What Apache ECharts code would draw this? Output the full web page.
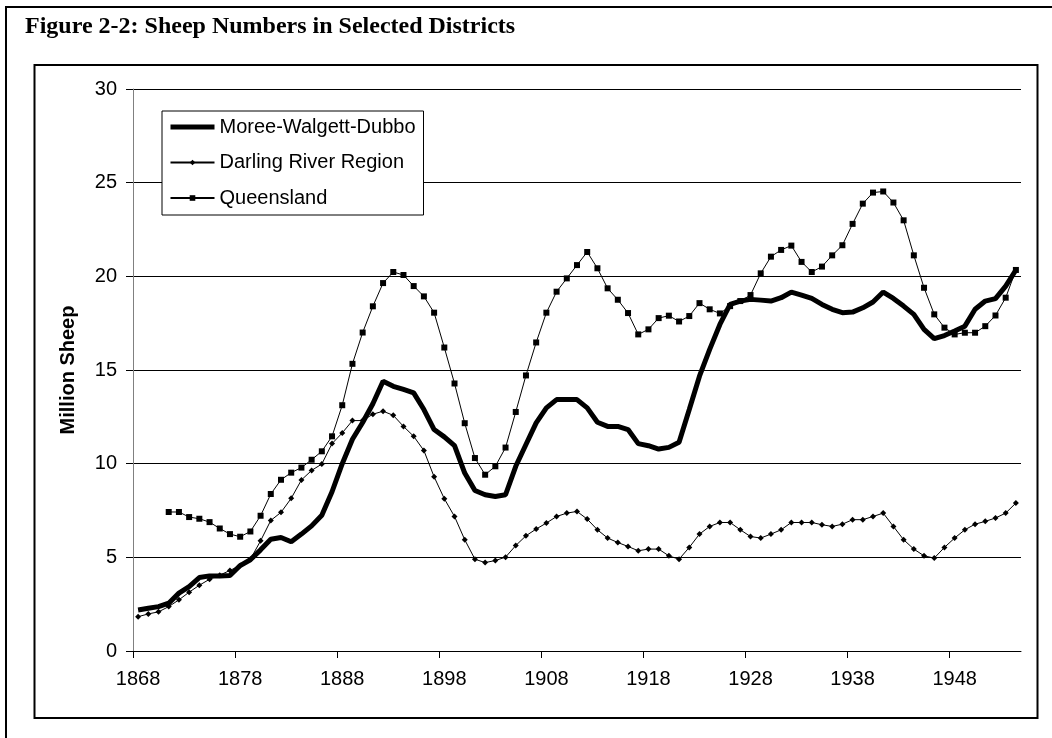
<!DOCTYPE html>
<html>
<head>
<meta charset="utf-8">
<title>Sheep Numbers in Selected Districts</title>
<script src="https://cdn.jsdelivr.net/npm/echarts@6/dist/echarts.min.js"></script>
<style>
  html, body { margin: 0; padding: 0; background: #fff; }
  #chart { width: 1052px; height: 738px; }
</style>
</head>
<body>
<div id="chart"></div>
<script>
// years on the category axis, one per point
const years = [];
for (let y = 1868; y <= 1954; y++) years.push(String(y));

// million sheep
const moree = [
  2.19, 2.28, 2.37, 2.55, 3.09, 3.44, 3.92, 4.01, 4.01, 4.03,
  4.56, 4.87, 5.40, 5.97, 6.06, 5.83, 6.24, 6.68, 7.25, 8.50,
  10.0, 11.3, 12.2, 13.2, 14.4, 14.13, 13.96, 13.78, 12.89, 11.82,
  11.43, 10.96, 9.50, 8.57, 8.34, 8.25, 8.34, 9.86, 11.02, 12.18,
  12.98, 13.42, 13.42, 13.42, 12.98, 12.21, 11.99, 11.99, 11.82, 11.07,
  10.96, 10.78, 10.87, 11.14, 12.89, 14.67, 16.10, 17.43, 18.50, 18.68,
  18.77, 18.73, 18.68, 18.86, 19.16, 19.00, 18.82, 18.50, 18.24, 18.06,
  18.09, 18.32, 18.63, 19.16, 18.82, 18.41, 17.97, 17.17, 16.67, 16.84,
  17.08, 17.34, 18.24, 18.68, 18.81, 19.48, 20.34
];

const darling = [
  1.83, 1.98, 2.09, 2.37, 2.73, 3.14, 3.51, 3.83, 4.05, 4.30,
  4.56, 4.90, 5.88, 6.97, 7.40, 8.15, 9.13, 9.64, 9.98, 11.07,
  11.64, 12.30, 12.30, 12.64, 12.80, 12.58, 11.99, 11.46, 10.70, 9.30,
  8.13, 7.18, 5.94, 4.90, 4.72, 4.83, 5.01, 5.63, 6.15, 6.51,
  6.83, 7.18, 7.36, 7.45, 7.04, 6.47, 6.03, 5.79, 5.58, 5.35,
  5.44, 5.44, 5.08, 4.90, 5.53, 6.24, 6.65, 6.86, 6.86, 6.47,
  6.11, 6.03, 6.24, 6.47, 6.86, 6.86, 6.86, 6.74, 6.65, 6.77,
  7.01, 7.01, 7.18, 7.36, 6.65, 5.94, 5.44, 5.08, 4.96, 5.53,
  6.03, 6.47, 6.77, 6.92, 7.10, 7.36, 7.90
];

// Queensland series begins in 1871
const queenslandStart = 1871;
const queensland = [
  7.42, 7.42, 7.15, 7.06, 6.88, 6.54, 6.24, 6.10, 6.38,
  7.22, 8.38, 9.14, 9.52, 9.79, 10.21, 10.66, 11.46, 13.12, 15.33,
  17.00, 18.40, 19.64, 20.23, 20.07, 19.48, 18.93, 18.06, 16.20, 14.28,
  12.16, 10.30, 9.41, 9.86, 10.86, 12.76, 14.71, 16.47, 18.06, 19.18,
  19.89, 20.60, 21.30, 20.43, 19.36, 18.75, 18.04, 16.90, 17.17, 17.77,
  17.90, 17.59, 17.88, 18.57, 18.24, 18.02, 18.41, 18.68, 19.00, 20.16,
  21.05, 21.41, 21.64, 20.77, 20.23, 20.52, 21.12, 21.66, 22.80, 23.88,
  24.47, 24.53, 23.94, 22.99, 21.12, 19.39, 17.97, 17.26, 16.90, 16.99,
  16.99, 17.34, 17.91, 18.86, 20.34
];

const xTickValues = [0, 10, 20, 30, 40, 50, 60, 70, 80];

const queenslandData = years.map(y => {
  const k = +y - queenslandStart;
  return k >= 0 ? queensland[k] : null;
});

const sans = 'Liberation Sans, Arial, sans-serif';
const chart = echarts.init(document.getElementById('chart'));

chart.setOption({
  animation: false,
  backgroundColor: '#fff',
  title: {
    text: 'Figure 2-2: Sheep Numbers in Selected Districts',
    left: 25,
    top: 15,
    padding: 0,
    textStyle: {
      fontFamily: 'Liberation Serif, Times New Roman, serif',
      fontWeight: 'bold',
      fontSize: 24,
      color: '#000'
    }
  },
  graphic: [
    {
      type: 'rect', silent: true, z: -1,
      shape: { x: 6, y: 7, width: 1200, height: 1000 },
      style: { fill: 'none', stroke: '#000', lineWidth: 2 }
    },
    {
      type: 'rect', silent: true, z: -1,
      shape: { x: 34.5, y: 65, width: 1003, height: 653 },
      style: { fill: 'none', stroke: '#000', lineWidth: 2 }
    }
  ],
  legend: {
    orient: 'vertical',
    left: 162,
    top: 111,
    padding: [5, 8, 6, 6],
    itemGap: 13.5,
    itemWidth: 44,
    itemHeight: 7,
    backgroundColor: '#fff',
    borderColor: '#000',
    borderWidth: 1,
    textStyle: { fontFamily: sans, fontSize: 20, lineHeight: 22, color: '#000' },
    data: [
      {
        name: 'Moree-Walgett-Dubbo',
        itemStyle: { color: 'rgba(0,0,0,0)', borderWidth: 0 },
        lineStyle: { color: '#000', width: 5 }
      },
      'Darling River Region',
      'Queensland'
    ]
  },
  grid: { left: 133, right: 31, top: 89, bottom: 87 },
  xAxis: [
    {
      type: 'category',
      data: years,
      boundaryGap: true,
      axisLine: { lineStyle: { color: '#000', width: 1 } },
      axisTick: { show: false },
      axisLabel: {
        interval: 9,
        margin: 18,
        fontFamily: sans,
        fontSize: 20,
        color: '#000'
      },
      splitLine: { show: false }
    },
    {
      // only draws the tick marks on the category boundaries
      type: 'value',
      position: 'bottom',
      min: 0,
      max: years.length,
      interval: 10,
      axisLine: { show: false },
      axisTick: {
        show: true,
        length: 7,
        customValues: xTickValues,
        lineStyle: { color: '#000' }
      },
      axisLabel: { show: false },
      splitLine: { show: false }
    }
  ],
  yAxis: {
    type: 'value',
    min: 0,
    max: 30,
    interval: 5,
    name: 'Million Sheep',
    nameLocation: 'middle',
    nameRotate: 90,
    nameGap: 55,
    nameTextStyle: { fontFamily: sans, fontSize: 20, fontWeight: 'bold', color: '#000' },
    axisLine: { show: true, lineStyle: { color: '#808080', width: 1 } },
    axisTick: { show: true, length: 7, lineStyle: { color: '#000' } },
    axisLabel: { margin: 16, fontFamily: sans, fontSize: 20, color: '#000' },
    splitLine: { lineStyle: { color: '#000', width: 1 } }
  },
  series: [
    {
      name: 'Moree-Walgett-Dubbo',
      type: 'line',
      data: moree,
      symbol: 'none',
      lineStyle: { color: '#000', width: 5 },
      itemStyle: { color: '#000' }
    },
    {
      name: 'Darling River Region',
      type: 'line',
      data: darling,
      symbol: 'diamond',
      symbolSize: 6,
      showAllSymbol: true,
      lineStyle: { color: '#000', width: 1 },
      itemStyle: { color: '#000' }
    },
    {
      name: 'Queensland',
      type: 'line',
      data: queenslandData,
      symbol: 'rect',
      symbolSize: 6,
      showAllSymbol: true,
      lineStyle: { color: '#000', width: 1 },
      itemStyle: { color: '#000' }
    }
  ]
});
</script>
</body>
</html>
